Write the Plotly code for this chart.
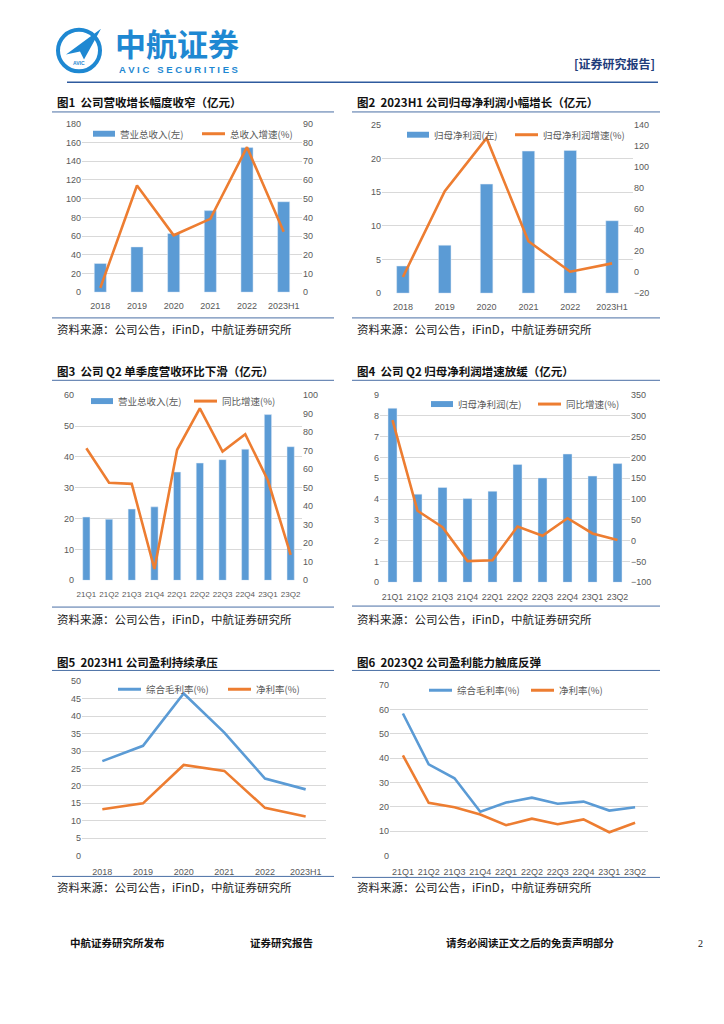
import plotly.graph_objects as go

W, H = 724, 1024
def px(x): return x / W
def py(y): return 1 - y / H

BLUE = "#5B9BD5"
ORANGE = "#ED7D31"
GRID = "#D9D9D9"
TICK = "#595959"
LINEC = "#4A6FA5"
FONT = "Liberation Sans, Noto Sans CJK SC, sans-serif"
CJK = "Noto Sans CJK SC, sans-serif"

# ---- data ----
years = ["2018", "2019", "2020", "2021", "2022", "2023H1"]
quarters = ["21Q1", "21Q2", "21Q3", "21Q4", "22Q1", "22Q2", "22Q3", "22Q4", "23Q1", "23Q2"]

rev_annual = [30.7, 48.4, 62.8, 87.2, 154.6, 96.7]
rev_annual_growth = [2.3, 57.0, 30.4, 39.2, 77.5, 32.3]

np_annual = [4.03, 7.12, 16.2, 21.1, 21.2, 10.76]
np_annual_growth = [-4.6, 77.0, 127.3, 29.3, 0.4, 8.3]

rev_q = [20.5, 19.8, 23.1, 23.8, 35.1, 38.0, 39.1, 42.5, 53.7, 43.3]
rev_q_growth = [71.3, 52.7, 52.1, 6.1, 70.5, 92.9, 69.5, 78.9, 53.9, 13.7]

np_q = [8.37, 4.24, 4.56, 4.03, 4.38, 5.67, 5.02, 6.17, 5.11, 5.71]
np_q_growth = [290, 72, 32.5, -49, -47, 34, 12, 54, 17.5, 1.6]

gm_annual = [27.1, 31.5, 46.5, 35.3, 22.1, 19.0]
nm_annual = [13.3, 15.0, 26.0, 24.3, 13.7, 11.2]

gm_q = [58.4, 37.5, 31.8, 18.0, 21.8, 23.8, 21.3, 22.2, 18.5, 19.9]
nm_q = [41.2, 21.7, 19.9, 16.9, 12.5, 15.2, 12.9, 14.9, 9.6, 13.5]

titles = ["图1  公司营收增长幅度收窄（亿元）",
          "图2  2023H1 公司归母净利润小幅增长（亿元）",
          "图3  公司 Q2 单季度营收环比下滑（亿元）",
          "图4  公司 Q2 归母净利润增速放缓（亿元）",
          "图5  2023H1 公司盈利持续承压",
          "图6  2023Q2 公司盈利能力触底反弹"]
source = "资料来源：公司公告，iFinD，中航证券研究所"

fig = go.Figure()
layout = dict(width=W, height=H, margin=dict(l=0, r=0, t=0, b=0),
              paper_bgcolor="white", plot_bgcolor="white", showlegend=False,
              font=dict(family=FONT, size=9, color=TICK))
shapes, annos = [], []

def xaxis_cfg(dom, anchor, n, size=9, standoff=5):
    return dict(domain=[px(dom[0]), px(dom[1])], anchor=anchor, type="category",
                range=[-0.5, n - 0.5],
                showgrid=False, showline=False, ticks="", zeroline=False, tickangle=0,
                ticklabelstandoff=standoff,
                tickfont=dict(size=size, color=TICK, family=FONT))

def yaxis_cfg(dom, anchor, rng, dtick, grid=True, side="left", overlay=None):
    d = dict(domain=[py(dom[1]), py(dom[0])], anchor=anchor, range=rng, dtick=dtick,
             tick0=rng[0], showgrid=grid, gridcolor=GRID, gridwidth=1, zeroline=False,
             showline=False, ticks="", side=side,
             tickfont=dict(size=9, color=TICK, family=FONT))
    if overlay:
        d["overlaying"] = overlay
    return d

charts = [
    dict(xd=(82, 302), yd=(120, 290)),
    dict(xd=(382, 633), yd=(121, 291)),
    dict(xd=(75, 302), yd=(394, 581)),
    dict(xd=(380, 630), yd=(394, 583)),
    dict(xd=(82, 326), yd=(683, 859)),
    dict(xd=(390, 648), yd=(687, 859)),
]
ny, nq = len(years), len(quarters)

# Chart 1
layout["xaxis"] = xaxis_cfg(charts[0]["xd"], "y", ny, standoff=7)
layout["yaxis"] = yaxis_cfg(charts[0]["yd"], "x", [0, 180], 20)
layout["yaxis2"] = yaxis_cfg(charts[0]["yd"], "x", [0, 90], 10, grid=False, side="right", overlay="y")
fig.add_trace(go.Bar(x=years, y=rev_annual, marker_color=BLUE, width=0.33, xaxis="x", yaxis="y"))
fig.add_trace(go.Scatter(x=years, y=rev_annual_growth, mode="lines", line=dict(color=ORANGE, width=2.6), xaxis="x", yaxis="y2"))

# Chart 2
layout["xaxis2"] = xaxis_cfg(charts[1]["xd"], "y3", ny, standoff=7)
layout["yaxis3"] = yaxis_cfg(charts[1]["yd"], "x2", [0, 25], 5)
layout["yaxis4"] = yaxis_cfg(charts[1]["yd"], "x2", [-20, 140], 20, grid=False, side="right", overlay="y3")
fig.add_trace(go.Bar(x=years, y=np_annual, marker_color=BLUE, width=0.3, xaxis="x2", yaxis="y3"))
fig.add_trace(go.Scatter(x=years, y=np_annual_growth, mode="lines", line=dict(color=ORANGE, width=2.6), xaxis="x2", yaxis="y4"))

# Chart 3
layout["xaxis3"] = xaxis_cfg(charts[2]["xd"], "y5", nq, size=8, standoff=8)
layout["yaxis5"] = yaxis_cfg(charts[2]["yd"], "x3", [0, 60], 10)
layout["yaxis6"] = yaxis_cfg(charts[2]["yd"], "x3", [0, 100], 10, grid=False, side="right", overlay="y5")
fig.add_trace(go.Bar(x=quarters, y=rev_q, marker_color=BLUE, width=0.32, xaxis="x3", yaxis="y5"))
fig.add_trace(go.Scatter(x=quarters, y=rev_q_growth, mode="lines", line=dict(color=ORANGE, width=2.6), xaxis="x3", yaxis="y6"))

# Chart 4
layout["xaxis4"] = xaxis_cfg(charts[3]["xd"], "y7", nq, size=8.8, standoff=8)
layout["yaxis7"] = yaxis_cfg(charts[3]["yd"], "x4", [0, 9], 1)
layout["yaxis8"] = yaxis_cfg(charts[3]["yd"], "x4", [-100, 350], 50, grid=False, side="right", overlay="y7")
fig.add_trace(go.Bar(x=quarters, y=np_q, marker_color=BLUE, width=0.36, xaxis="x4", yaxis="y7"))
fig.add_trace(go.Scatter(x=quarters, y=np_q_growth, mode="lines", line=dict(color=ORANGE, width=2.6), xaxis="x4", yaxis="y8"))

# Chart 5
layout["xaxis5"] = xaxis_cfg(charts[4]["xd"], "y9", ny, standoff=9)
layout["yaxis9"] = yaxis_cfg(charts[4]["yd"], "x5", [0, 50], 5)
fig.add_trace(go.Scatter(x=years, y=gm_annual, mode="lines", line=dict(color=BLUE, width=2.6), xaxis="x5", yaxis="y9"))
fig.add_trace(go.Scatter(x=years, y=nm_annual, mode="lines", line=dict(color=ORANGE, width=2.6), xaxis="x5", yaxis="y9"))

# Chart 6
layout["xaxis6"] = xaxis_cfg(charts[5]["xd"], "y10", nq, size=9, standoff=9)
layout["yaxis10"] = yaxis_cfg(charts[5]["yd"], "x6", [0, 70], 10)
fig.add_trace(go.Scatter(x=quarters, y=gm_q, mode="lines", line=dict(color=BLUE, width=2.6), xaxis="x6", yaxis="y10"))
fig.add_trace(go.Scatter(x=quarters, y=nm_q, mode="lines", line=dict(color=ORANGE, width=2.6), xaxis="x6", yaxis="y10"))

def hline(x0, x1, y, color=LINEC, width=1):
    shapes.append(dict(type="line", xref="paper", yref="paper", x0=px(x0), x1=px(x1),
                       y0=py(y), y1=py(y), line=dict(color=color, width=width)))

def text(x, y, s, size=10, color="#222", bold=False, family=CJK, xanchor="left"):
    if bold:
        s = "<b>" + s + "</b>"
    annos.append(dict(xref="paper", yref="paper", x=px(x), y=py(y), text=s, showarrow=False,
                      xanchor=xanchor, yanchor="middle", font=dict(size=size, color=color, family=family)))

def leg_bar(x, y, label):
    shapes.append(dict(type="rect", xref="paper", yref="paper", x0=px(x), x1=px(x + 22),
                       y0=py(y + 3), y1=py(y - 3), fillcolor=BLUE, line=dict(width=0)))
    text(x + 25, y, label, size=9.5, color=TICK)

def leg_line(x, y, label, color):
    shapes.append(dict(type="line", xref="paper", yref="paper", x0=px(x), x1=px(x + 23),
                       y0=py(y), y1=py(y), line=dict(color=color, width=3)))
    text(x + 26, y, label, size=9.5, color=TICK)

blocks = [
    (55, 98, 52, 334, 108, 316, 327),
    (355, 98, 352, 660, 108, 316, 327),
    (55, 370, 52, 334, 379, 608, 620),
    (355, 370, 352, 660, 379, 607, 620),
    (55, 663, 52, 334, 672, 880, 891),
    (355, 663, 352, 660, 672, 881, 891),
]
for t, (tx, ty, lx0, lx1, ly, by, sy) in zip(titles, blocks):
    text(tx, ty, t, size=11.5, color="#111", bold=True)
    hline(lx0, lx1, ly)
    hline(lx0, lx1, by)
    text(tx, sy, source, size=11.5, color="#222")

leg_bar(93, 130, "营业总收入(左)")
leg_line(202, 130, "总收入增速(%)", ORANGE)
leg_bar(407, 131, "归母净利润(左)")
leg_line(515, 131, "归母净利润增速(%)", ORANGE)
leg_bar(91, 400, "营业总收入(左)")
leg_line(194, 400, "同比增速(%)", ORANGE)
leg_bar(431, 403, "归母净利润(左)")
leg_line(538, 403, "同比增速(%)", ORANGE)
leg_line(118, 691, "综合毛利率(%)", BLUE)
leg_line(228, 691, "净利率(%)", ORANGE)
leg_line(429, 692, "综合毛利率(%)", BLUE)
leg_line(531, 692, "净利率(%)", ORANGE)

# Header
LOGO = "#1E88D2"
shapes.append(dict(type="circle", xref="paper", yref="paper", x0=px(58), x1=px(100),
                   y0=py(67), y1=py(25), line=dict(color=LOGO, width=4)))
shapes.append(dict(type="path", xref="paper", yref="paper",
                   path=f"M {px(66)},{py(50)} L {px(101)},{py(24)} L {px(84)},{py(55)} L {px(80)},{py(47)} Z",
                   fillcolor=LOGO, line=dict(width=0)))
text(79, 59, "<b>AVIC</b>", size=5, color=LOGO, family="Liberation Sans", xanchor="center")
text(177, 38, "中航证券", size=31, color=LOGO, bold=True, xanchor="center")
text(178, 65, "A V I C   S E C U R I T I E S", size=9.5, color=LOGO, bold=True,
     family="Liberation Sans", xanchor="center")
text(614, 59, "[证券研究报告]", size=12, color="#1F3D7A", bold=True, xanchor="center")
hline(67, 658, 78, color="#2E5A9E", width=1.5)

# Footer
text(117, 947, "中航证券研究所发布", size=10.5, color="#111", bold=True, xanchor="center")
text(281, 947, "证券研究报告", size=10.5, color="#111", bold=True, xanchor="center")
text(530, 947, "请务必阅读正文之后的免责声明部分", size=10.5, color="#111", bold=True, xanchor="center")
text(700, 948, "2", size=10, color="#111", family="Liberation Serif", xanchor="center")

layout["shapes"] = shapes
layout["annotations"] = annos
fig.update_layout(**layout)

fig.write_html("out.html", config={"displayModeBar": False},
               post_script="document.body.style.margin='0';")
